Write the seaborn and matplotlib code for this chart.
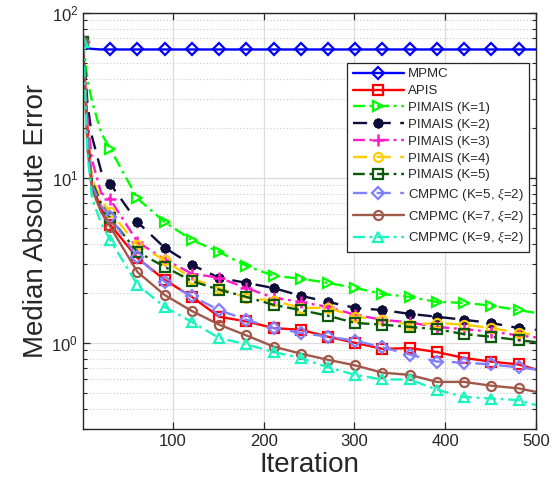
import numpy as np
import pandas as pd
import seaborn as sns
import matplotlib
matplotlib.use("Agg")
import matplotlib.pyplot as plt
from matplotlib.ticker import LogLocator, FixedLocator, NullFormatter

# data (value at marker iterations, plus a few early points)
iters = [1, 6, 11, 21, 31, 61, 91, 121, 151, 181, 211, 241, 271, 301, 331, 361, 391, 421, 451, 481, 500]

mpmc = [67, 61, 60.5, 60, 60, 60, 60, 60, 60, 60, 60, 60, 60, 60, 60, 60, 60, 60, 60, 60, 60]
apis = [67, 20, 9, 6.5, 5.2, 3.27, 2.41, 1.9, 1.44, 1.35, 1.23, 1.2, 1.09, 1.0, 0.92, 0.93, 0.88, 0.81, 0.77, 0.74, 0.69]
pimais_k1 = [67, 39, 29, 18.7, 15, 7.5, 5.4, 4.2, 3.56, 2.93, 2.55, 2.45, 2.31, 2.15, 1.98, 1.9, 1.77, 1.75, 1.68, 1.58, 1.52]
pimais_k2 = [67, 28, 17.7, 11, 9.2, 5.4, 3.77, 2.97, 2.48, 2.31, 2.15, 1.93, 1.77, 1.63, 1.58, 1.5, 1.44, 1.38, 1.32, 1.23, 1.2]
pimais_k3 = [67, 22.5, 12.8, 8.1, 7.4, 4.1, 3.2, 2.63, 2.48, 2.15, 1.88, 1.77, 1.65, 1.48, 1.38, 1.33, 1.25, 1.21, 1.17, 1.11, 1.08]
pimais_k4 = [67, 18, 10, 7.3, 6.2, 3.9, 3.18, 2.45, 2.15, 1.88, 1.8, 1.63, 1.63, 1.44, 1.38, 1.29, 1.32, 1.29, 1.23, 1.15, 1.12]
pimais_k5 = [67, 17, 9.5, 7, 5.7, 3.56, 2.89, 2.37, 2.1, 1.9, 1.7, 1.58, 1.46, 1.32, 1.29, 1.25, 1.21, 1.13, 1.09, 1.04, 1.01]
cmpmc_k5 = [67, 17, 9, 6.8, 5.8, 3.3, 2.35, 1.92, 1.58, 1.38, 1.23, 1.15, 1.09, 1.03, 0.94, 0.85, 0.77, 0.76, 0.74, 0.71, 0.69]
cmpmc_k7 = [67, 15, 8.5, 6.2, 5.05, 2.69, 1.95, 1.56, 1.29, 1.11, 0.95, 0.86, 0.79, 0.73, 0.66, 0.64, 0.58, 0.58, 0.55, 0.53, 0.505]
cmpmc_k9 = [67, 14, 7.5, 5.3, 4.2, 2.25, 1.65, 1.34, 1.07, 0.98, 0.88, 0.81, 0.71, 0.64, 0.6, 0.6, 0.52, 0.47, 0.46, 0.45, 0.42]

labels = ["MPMC", "APIS", "PIMAIS (K=1)", "PIMAIS (K=2)", "PIMAIS (K=3)", "PIMAIS (K=4)",
          "PIMAIS (K=5)", r"CMPMC (K=5, $\xi$=2)", r"CMPMC (K=7, $\xi$=2)", r"CMPMC (K=9, $\xi$=2)"]
series = [mpmc, apis, pimais_k1, pimais_k2, pimais_k3, pimais_k4, pimais_k5, cmpmc_k5, cmpmc_k7, cmpmc_k9]

colors = ["#0000FF", "#FF0000", "#00FF00", "#0D0D3A", "#FF1ACB", "#FFCC00", "#0B5A0B", "#8080FF", "#A0584A", "#1AF5C0"]
markers = ["D", "s", ">", (8, 2, 0), "+", "o", "s", "D", "o", "^"]
dash_dot = (5, 2, 1.2, 2)
long_dash = (6, 4)
styles = ["-", "-", dash_dot, long_dash, dash_dot, long_dash, dash_dot, long_dash, "-", dash_dot]

sns.set_theme(style="ticks")
plt.rcParams['font.family'] = ['Liberation Sans', 'DejaVu Sans']
plt.rcParams['mathtext.fontset'] = 'custom'
plt.rcParams['mathtext.rm'] = 'Liberation Sans'
plt.rcParams['mathtext.it'] = 'Liberation Serif:italic'

fig = plt.figure(figsize=(5.57, 4.95), dpi=100)
ax = fig.add_axes([0.149, 0.133, 0.813, 0.841])

mark_idx = [0] + list(range(4, 20))

for lab, vals, c, m, ls in zip(labels, series, colors, markers, styles):
    df = pd.DataFrame({"Iteration": iters, "err": vals})
    sns.lineplot(data=df, x="Iteration", y="err", ax=ax, color=c, marker=m,
                 markevery=mark_idx, markersize=6.5, markerfacecolor="none",
                 markeredgecolor=c, markeredgewidth=1.6, linewidth=1.7, label=lab)
    line = ax.lines[-1]
    if ls == "-":
        line.set_linestyle("-")
    else:
        line.set_dashes(ls)
    if m == (8, 2, 0):
        line.set_markerfacecolor(c)
        line.set_markeredgewidth(2.2)
        line.set_markersize(7)
    if m == "+":
        line.set_markersize(8)
        line.set_markeredgewidth(1.8)

ax.set_yscale("log")
ax.set_xlim(1, 500)
ax.set_ylim(0.3, 100)
ax.xaxis.set_major_locator(FixedLocator([100, 200, 300, 400, 500]))
ax.yaxis.set_major_locator(LogLocator(base=10, numticks=10))
ax.yaxis.set_minor_locator(LogLocator(base=10, subs=np.arange(2, 10), numticks=20))
ax.yaxis.set_minor_formatter(NullFormatter())

ax.grid(True, which="major", color="#DCDCDC", linewidth=0.9, linestyle="-")
ax.grid(True, which="minor", axis="y", color="#C8C8C8", linewidth=0.8, linestyle=(0, (1, 2)))
ax.set_axisbelow(True)

ax.tick_params(which="both", direction="in", top=True, right=True, colors="#262626", labelsize=12)
ax.tick_params(which="major", length=5, width=0.9)
ax.tick_params(which="minor", length=3, width=0.8)
for sp in ax.spines.values():
    sp.set_color("#262626")
    sp.set_linewidth(1.0)

ax.set_xlabel("Iteration", fontsize=20, color="#262626", labelpad=2)
ax.set_ylabel("Median Absolute Error", fontsize=20, color="#262626", labelpad=2)

leg = ax.legend(loc="upper right", bbox_to_anchor=(0.985, 0.88), borderaxespad=0,
                fontsize=9.5, handlelength=3.9, handletextpad=0.3, labelspacing=0.35,
                borderpad=0.4, fancybox=False, framealpha=1, edgecolor="#262626")
leg.get_frame().set_linewidth(0.9)

fig.savefig("out.png", dpi=100)
